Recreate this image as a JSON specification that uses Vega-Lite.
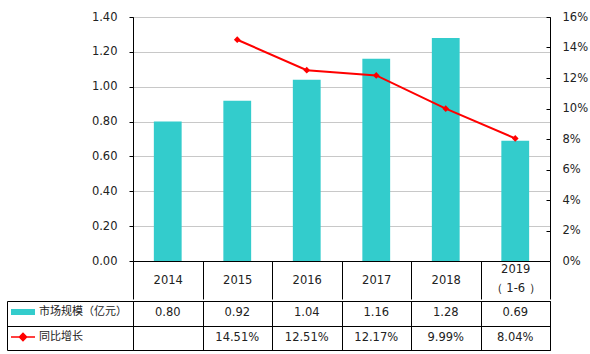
{
  "$schema": "https://vega.github.io/schema/vega-lite/v6.json",
  "padding": {"left": 6, "top": 10, "right": 7, "bottom": 7},
  "background": "#ffffff",
  "config": {
    "view": {"stroke": "#000000", "strokeWidth": 1},
    "font": "DejaVu Sans",
    "axis": {"labelFont": "DejaVu Sans", "labelFontSize": 11.5, "labelColor": "#222222"}
  },
  "datasets": {
    "d": [
      {"year": "2014", "size": 0.80, "growth": null},
      {"year": "2015", "size": 0.92, "growth": 0.1451},
      {"year": "2016", "size": 1.04, "growth": 0.1251},
      {"year": "2017", "size": 1.16, "growth": 0.1217},
      {"year": "2018", "size": 1.28, "growth": 0.0999},
      {"year": "2019", "size": 0.69, "growth": 0.0804}
    ]
  },
  "spacing": 0,
  "vconcat": [
    {
      "width": 417,
      "height": 244,
      "data": {"name": "d"},
      "encoding": {
        "x": {
          "field": "year", "type": "nominal", "sort": null,
          "scale": {"paddingInner": 0, "paddingOuter": 0},
          "axis": {
            "title": null, "labelAngle": 0, "tickBand": "extent", "tickSize": 38,
            "tickColor": "#000000", "domainColor": "#000000",
            "labelPadding": {"condition": {"test": "datum.value == '2019'", "value": -30}, "value": -19},
            "labelBaseline": "middle", "labelLineHeight": 19,
            "labelExpr": "datum.label == '2019' ? ['2019', '（ 1-6 ）'] : datum.label"
          }
        }
      },
      "layer": [
        {
          "mark": {"type": "bar", "width": {"band": 0.4}},
          "encoding": {
            "y": {
              "field": "size", "type": "quantitative",
              "scale": {"domain": [0, 1.4], "nice": false},
              "axis": {
                "title": null, "values": [0, 0.2, 0.4, 0.6, 0.8, 1.0, 1.2, 1.4], "format": ".2f",
                "grid": true, "gridColor": "#c8c8c8", "tickSize": 4, "tickColor": "#000000",
                "domainColor": "#000000", "labelPadding": 12
              }
            },
            "fill": {
              "datum": "市场规模（亿元）",
              "scale": {"range": ["#33CCCC"]},
              "legend": {
                "orient": "none", "legendX": -123, "legendY": 282, "title": null,
                "symbolType": "M-1,-0.25H1V0.25H-1Z", "symbolSize": 576,
                "labelFont": "Noto Sans CJK SC", "labelFontSize": 11, "labelColor": "#222222", "labelOffset": 3
              }
            }
          }
        },
        {
          "transform": [{"filter": "isValid(datum.growth)"}],
          "encoding": {
            "y": {
              "field": "growth", "type": "quantitative",
              "scale": {"domain": [0, 0.16], "nice": false},
              "axis": {
                "title": null, "orient": "right",
                "values": [0, 0.02, 0.04, 0.06, 0.08, 0.1, 0.12, 0.14, 0.16], "format": ".0%",
                "grid": false, "tickSize": -4, "tickColor": "#000000", "domainColor": "#000000",
                "labelPadding": 16
              }
            }
          },
          "layer": [
            {
              "mark": {"type": "line", "strokeWidth": 2},
              "encoding": {
                "stroke": {
                  "datum": "同比增长",
                  "scale": {"range": ["#FF0000"]},
                  "legend": {
                    "orient": "none", "legendX": -123, "legendY": 307, "title": null,
                    "symbolType": "M-1,0H1M-0.3,0L0,-0.3L0.3,0L0,0.3Z", "symbolSize": 576,
                    "symbolStrokeWidth": 1.5, "symbolFillColor": "#FF0000",
                    "labelFont": "Noto Sans CJK SC", "labelFontSize": 11, "labelColor": "#222222", "labelOffset": 3
                  }
                }
              }
            },
            {
              "mark": {"type": "point", "shape": "diamond", "filled": true, "color": "#FF0000", "size": 45, "opacity": 1}
            }
          ]
        }
      ],
      "resolve": {"scale": {"y": "independent"}}
    },
    {
      "width": 417,
      "height": 49,
      "data": {"name": "d"},
      "encoding": {
        "x": {
          "field": "year", "type": "nominal", "sort": null,
          "scale": {"paddingInner": 0, "paddingOuter": 0},
          "axis": {
            "title": null, "labels": false, "ticks": false, "domain": false,
            "grid": true, "gridColor": "#000000", "tickBand": "extent"
          }
        }
      },
      "layer": [
        {
          "mark": {"type": "text", "font": "DejaVu Sans", "fontSize": 11.5, "color": "#222222"},
          "encoding": {
            "y": {
              "datum": "市场规模（亿元）", "type": "nominal",
              "scale": {"domain": ["市场规模（亿元）", "同比增长"], "paddingInner": 0, "paddingOuter": 0},
              "axis": {
                "title": null, "labels": false, "offset": 126, "tickSize": -126,
                "tickColor": "#000000", "domainColor": "#000000", "tickBand": "extent",
                "grid": true, "gridColor": "#000000"
              }
            },
            "text": {"field": "size", "type": "quantitative", "format": ".2f"}
          }
        },
        {
          "transform": [{"filter": "isValid(datum.growth)"}],
          "mark": {"type": "text", "font": "DejaVu Sans", "fontSize": 11.5, "color": "#222222"},
          "encoding": {
            "y": {"datum": "同比增长", "type": "nominal"},
            "text": {"field": "growth", "type": "quantitative", "format": ".2%"}
          }
        }
      ]
    }
  ]
}
